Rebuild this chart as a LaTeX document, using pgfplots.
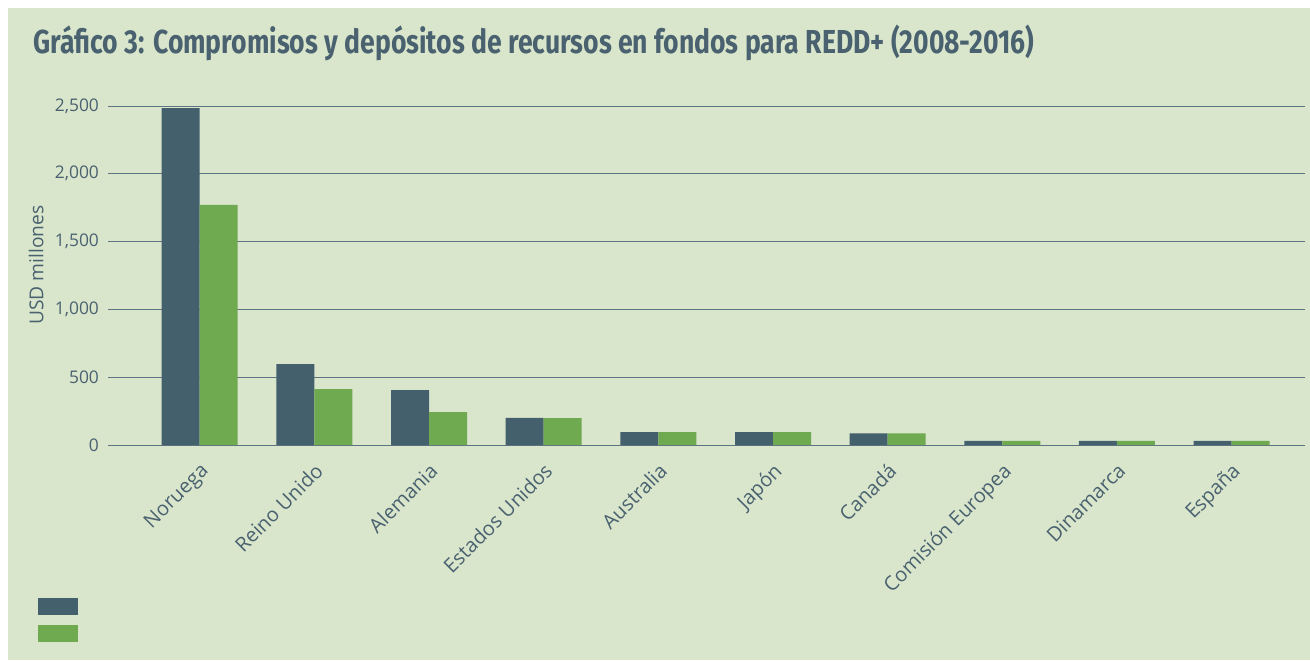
\documentclass[border=0pt]{standalone}
\usepackage{fontspec}
\setmainfont{Open Sans}
\newfontfamily\titlefont{Fira Sans}[FakeStretch=0.8]
\usepackage{pgfplots}
\pgfplotsset{compat=1.18}
\definecolor{bg}{HTML}{D9E6CC}
\definecolor{dark}{HTML}{45606D}
\definecolor{grn}{HTML}{6FAA50}
\definecolor{txt}{HTML}{4A6270}
\definecolor{gridc}{HTML}{5E7482}
\begin{document}
\begin{tikzpicture}[x=1pt,y=1pt]
\useasboundingbox (0,0) rectangle (655,330);
\fill[white] (0,0) rectangle (655,330);
\fill[bg] (4,0) rectangle (655,326);
\node[anchor=base west, font=\titlefont\bfseries\fontsize{16.6}{20}\selectfont, text=txt, inner sep=0pt] at (16.5,303) {Gráfico 3: Compromisos y depósitos de recursos en fondos para REDD+ (2008-2016)};
\begin{axis}[
  at={(54pt,107.5pt)}, anchor=south west,
  scale only axis, width=598.5pt, height=169.5pt,
  xmin=-0.8, xmax=9.64, ymin=0, ymax=2500,
  ybar=0pt, bar width=19pt,
  axis line style={draw=none}, tick style={draw=none}, major tick length=0pt,
  ymajorgrids, grid style={gridc, line width=0.5pt},
  ytick={0,500,1000,1500,2000,2500},
  yticklabel style={font=\fontsize{8.7}{10}\selectfont, text=txt, xshift=-1pt},
  /pgf/number format/.cd, 1000 sep={,}, assume math mode=true, /pgfplots/.cd,
  xtick={0,...,9},
  xticklabels={Noruega, Reino Unido, Alemania, Estados Unidos, Australia, Japón, Canadá, Comisión Europea, Dinamarca, España},
  xticklabel style={font=\fontsize{10}{12}\selectfont, text=txt, rotate=45, anchor=north east, inner sep=1pt, xshift=-5pt, yshift=-4.5pt},
  ylabel={USD millones},
  ylabel style={font=\fontsize{9.6}{11}\selectfont, text=txt, at={(axis description cs:-0.060,0.531)}, anchor=center, rotate=0},
  legend image code/.code={\fill[#1] (0pt,-4.25pt) rectangle (20pt,4.25pt);},
  legend style={draw=none, fill=none, at={(axis description cs:-0.0585,-0.451)}, anchor=north west, inner sep=0pt, row sep=5pt, nodes={inner sep=0pt}},
]
\addplot[fill=dark, draw=none] coordinates {(0,2485) (1,597) (2,405) (3,200) (4,95) (5,95) (6,85) (7,30) (8,30) (9,30)};
\addlegendentry{\mbox{}}
\addplot[fill=grn, draw=none] coordinates {(0,1770) (1,413) (2,243) (3,198) (4,95) (5,95) (6,85) (7,30) (8,30) (9,30)};
\addlegendentry{\mbox{}}
\end{axis}
\end{tikzpicture}
\end{document}
